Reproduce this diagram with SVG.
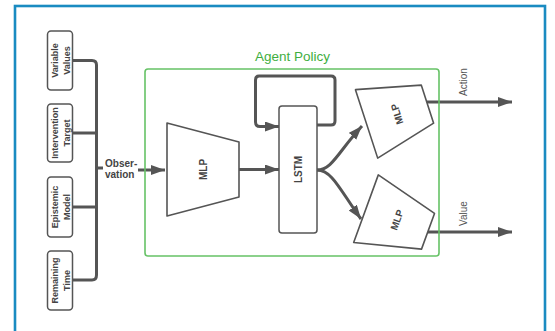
<svg xmlns="http://www.w3.org/2000/svg" width="555" height="331" viewBox="0 0 555 331">
<defs>
<marker id="ah" markerUnits="userSpaceOnUse" markerWidth="15" markerHeight="11" refX="14" refY="5" orient="auto">
<path d="M0,0 L14,5 L0,10 z" fill="#555"/>
</marker>
<style>
.frame{fill:none;stroke:#1a8bc1;stroke-width:2.6}
.box{fill:#fff;stroke:#555;stroke-width:1.5}
.shape{fill:#fff;stroke:#555;stroke-width:1.6;stroke-linejoin:round}
.conn{fill:none;stroke:#555;stroke-width:3;stroke-linejoin:round}
.lbl{font-family:"Liberation Sans",Arial,sans-serif;font-weight:bold;font-size:9px;fill:#444;text-anchor:middle}
.ml{font-family:"Liberation Sans",Arial,sans-serif;font-weight:bold;font-size:10px;fill:#444;text-anchor:middle}
.out{font-family:"Liberation Sans",Arial,sans-serif;font-size:10px;fill:#555;text-anchor:middle}
.obs{font-family:"Liberation Sans",Arial,sans-serif;font-weight:bold;font-size:10px;fill:#444}
.grp{fill:none;stroke:#66c266;stroke-width:1.6}
.grpt{font-family:"Liberation Sans",Arial,sans-serif;font-size:13.5px;fill:#3fae3f;text-anchor:middle}
</style>
</defs>
<rect width="555" height="331" fill="#fff"/>
<rect class="frame" x="15" y="6" width="530" height="345"/>

<g id="connectors">
<path class="conn" d="M72,60.5 H92 Q96.5,60.5 96.5,65 V275 Q96.5,280 92,280 H72"/>
<path class="conn" d="M72,133 H96.5"/>
<path class="conn" d="M72,207 H96.5"/>
<path class="conn" d="M96.5,168 H103"/>
<path class="conn" d="M138,170 H165" marker-end="url(#ah)"/>
<path class="conn" d="M239,169.5 H279" marker-end="url(#ah)"/>
<path class="conn" d="M317,125 H331 Q335,125 335,121 V80 Q335,76 331,76 H259 Q255.5,76 255.5,80 V122 Q255.5,126.5 260,126.5 H279" marker-end="url(#ah)"/>
<path class="conn" d="M317,170 C332,170 338,152 362,126" marker-end="url(#ah)"/>
<path class="conn" d="M317,170 C332,170 340,190 361,219" marker-end="url(#ah)"/>
<path class="conn" d="M426,102 H512" marker-end="url(#ah)"/>
<path class="conn" d="M428,232 H512" marker-end="url(#ah)"/>
</g>

<g id="variable-values">
<rect class="box" x="47.5" y="31" width="25" height="59" rx="3.5"/>
<text class="lbl" transform="translate(60,60.5) rotate(-90)"><tspan x="0" y="-2">Variable</tspan><tspan x="0" y="10">Values</tspan></text>
</g>
<g id="intervention-target">
<rect class="box" x="47.5" y="104" width="25" height="58" rx="3.5"/>
<text class="lbl" transform="translate(60,133) rotate(-90)"><tspan x="0" y="-2">Intervention</tspan><tspan x="0" y="10">Target</tspan></text>
</g>
<g id="epistemic-model">
<rect class="box" x="47.5" y="177" width="25" height="60" rx="3.5"/>
<text class="lbl" transform="translate(60,207) rotate(-90)"><tspan x="0" y="-2">Epistemic</tspan><tspan x="0" y="10">Model</tspan></text>
</g>
<g id="remaining-time">
<rect class="box" x="47.5" y="251" width="25" height="59" rx="3.5"/>
<text class="lbl" transform="translate(60,280.5) rotate(-90)"><tspan x="0" y="-2">Remaining</tspan><tspan x="0" y="10">Time</tspan></text>
</g>

<g id="observation">
<text class="obs" x="105" y="166.5">Obser-</text>
<text class="obs" x="105" y="177.5">vation</text>
</g>

<g id="agent-policy">
<rect class="grp" x="145" y="69" width="294" height="187" rx="3"/>
<text class="grpt" x="292.5" y="61">Agent Policy</text>
</g>

<g id="mlp-input">
<path class="shape" d="M167,123 L239,142 L239,197 L167,216 Z"/>
<text class="ml" transform="translate(207,169.5) rotate(-90)">MLP</text>
</g>

<g id="lstm">
<rect class="box" x="279" y="106" width="38" height="127" rx="3"/>
<text class="ml" transform="translate(302,169.5) rotate(-90)">LSTM</text>
</g>

<g id="mlp-action" transform="translate(397,114) rotate(-18)">
<path class="shape" d="M-32,-36 L32,-20 L32,20 L-32,36 Z"/>
<text class="ml" transform="translate(3.5,0) rotate(-90)">MLP</text>
</g>

<g id="mlp-value" transform="translate(397,220) rotate(20)">
<path class="shape" d="M-33,-36 L33,-19 L33,19 L-33,36 Z"/>
<text class="ml" transform="translate(3.5,0) rotate(-90)">MLP</text>
</g>

<g id="action-label">
<text class="out" transform="translate(467,82) rotate(-90)">Action</text>
</g>
<g id="value-label">
<text class="out" transform="translate(467,213.5) rotate(-90)">Value</text>
</g>
</svg>
